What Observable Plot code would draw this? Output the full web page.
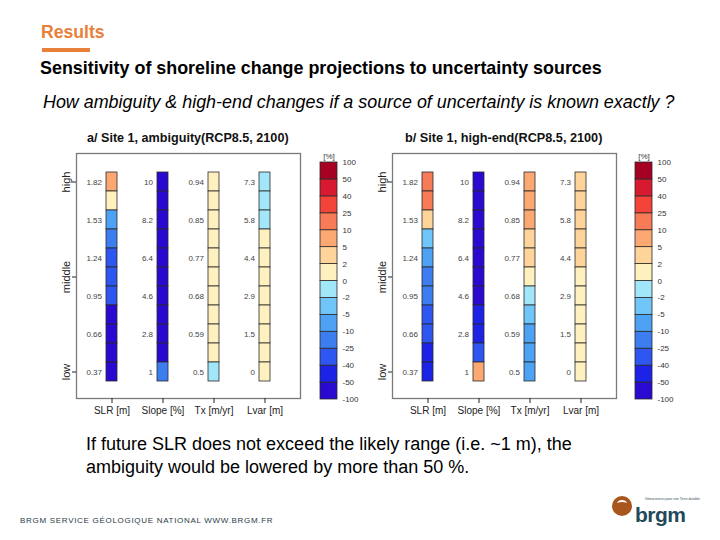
<!DOCTYPE html>
<html>
<head>
<meta charset="utf-8">
<script src="https://cdn.jsdelivr.net/npm/d3@7"></script>
<script src="https://cdn.jsdelivr.net/npm/@observablehq/plot@0.6"></script>
<style>
  html, body { margin: 0; padding: 0; background: #fff; }
  #page { position: relative; width: 720px; height: 540px; overflow: hidden; font-family: "Liberation Sans", Arial, sans-serif; }
  .abs { position: absolute; white-space: nowrap; }
  svg { overflow: visible; }
</style>
</head>
<body>
<div id="page">
  <div class="abs" style="left:41px;top:22px;font-size:17.6px;font-weight:bold;color:#E8803A;">Results</div>
  <div class="abs" style="left:42px;top:48px;width:48px;height:3.5px;background:#E8803A;"></div>
  <div class="abs" style="left:40px;top:58px;font-size:17.9px;font-weight:bold;color:#000;">Sensitivity of shoreline change projections to uncertainty sources</div>
  <div class="abs" style="left:43px;top:92px;font-size:17.9px;font-style:italic;color:#000;">How ambiguity &amp; high-end changes if a source of uncertainty is known exactly ?</div>
  <div class="abs" style="left:87px;top:131px;font-size:12.6px;font-weight:bold;color:#111;">a/ Site 1, ambiguity(RCP8.5, 2100)</div>
  <div class="abs" style="left:405px;top:131px;font-size:12.7px;font-weight:bold;color:#111;">b/ Site 1, high-end(RCP8.5, 2100)</div>
  <div class="abs" id="mainA" style="left:30px;top:125px;"></div>
  <div class="abs" id="barA" style="left:310px;top:140px;"></div>
  <div class="abs" id="mainB" style="left:346px;top:125px;"></div>
  <div class="abs" id="barB" style="left:625px;top:140px;"></div>
  <div class="abs" style="left:86px;top:433px;font-size:18px;line-height:23px;color:#000;">If future SLR does not exceed the likely range (i.e. ~1 m), the<br>ambiguity would be lowered by more than 50 %.</div>
  <div class="abs" style="left:20px;top:516px;font-size:8px;letter-spacing:0.7px;color:#2a3a45;">BRGM SERVICE GÉOLOGIQUE NATIONAL WWW.BRGM.FR</div>
  <div class="abs" style="left:612px;top:496px;width:20px;height:20px;border-radius:50%;background:#A8561E;"></div>
  <div class="abs" style="left:617px;top:500px;width:10px;height:5px;border-top:2px solid #fff;border-radius:50% 50% 0 0;"></div>
  <div class="abs" style="left:645px;top:497px;font-size:3.4px;line-height:4px;color:#2a4a58;">Géosciences pour une Terre durable</div>
  <div class="abs" style="left:635px;top:503px;font-size:21px;line-height:24px;font-weight:bold;color:#1F4A5A;letter-spacing:-0.5px;">brgm</div>
</div>
<script>
// ---- data ----
const variables = ["SLR [m]", "Slope [%]", "Tx [m/yr]", "Lvar [m]"];
const levelTicks = ["high", "middle", "low"];
const levelTickIdx = [0, 5, 10];

// value tick labels beside each column (top -> bottom)
const labelsSLR = ["1.82", "1.53", "1.24", "0.95", "0.66", "0.37"];
const labelsSlope = ["10", "8.2", "6.4", "4.6", "2.8", "1"];
const labelsTx = ["0.94", "0.85", "0.77", "0.68", "0.59", "0.5"];
const labelsLvar = ["7.3", "5.8", "4.4", "2.9", "1.5", "0"];

// estimated % change per cell (11 cells, top -> bottom)
// a/ ambiguity
const ambSLR   = [7, 1, -7, -17, -32, -32, -32, -75, -75, -75, -75];
const ambSlope = [-75, -75, -75, -75, -75, -75, -75, -75, -75, -75, -17];
const ambTx    = [1, 1, 1, 1, 1, 1, 1, 1, 1, 1, -1];
const ambLvar  = [-1, -1, -1, 1, 1, 1, 1, 1, 1, 1, 1];
// b/ high-end
const heSLR    = [17, 17, 3, -3, -7, -17, -17, -32, -32, -45, -45];
const heSlope  = [-75, -75, -75, -75, -75, -75, -75, -45, -45, -32, 7];
const heTx     = [7, 7, 7, 3, 3, 1, -1, -3, -7, -7, -7];
const heLvar   = [3, 3, 3, 3, 3, 1, 1, 1, 1, 1, 1];

// colour classes
const classBounds = ["-100", "-50", "-40", "-25", "-10", "-5", "-2", "0", "2", "5", "10", "25", "40", "50", "100"];
const thresholds = [-50, -40, -25, -10, -5, -2, 0, 2, 5, 10, 25, 40, 50];
const classMids = [-75, -45, -32, -17, -7, -3, -1, 1, 3, 7, 17, 32, 45, 75];
const classColors = ["#2A0AD0", "#1C22E6", "#2E56F0", "#3C7EF0", "#4EA2F4", "#70C6F8", "#A2E6FA",
                     "#FFF0C0", "#FED49A", "#FBA872", "#F87B58", "#F4443A", "#D81A30", "#A60022"];

// ---- build tables ----
const labelSets = [labelsSLR, labelsSlope, labelsTx, labelsLvar];
function cellsOf(cols) {
  const rows = [];
  cols.forEach((vals, j) => vals.forEach((p, i) => rows.push({v: variables[j], i, pct: p})));
  return rows;
}
const labelRows = [];
labelSets.forEach((labs, j) => labs.forEach((l, k) => labelRows.push({v: variables[j], i: 2 * k, label: l})));

const colorOpts = {type: "threshold", domain: thresholds, range: classColors};

function mainPlot(cols) {
  return Plot.plot({
    width: 280, height: 300,
    marginLeft: 46, marginRight: 10, marginTop: 28, marginBottom: 27,
    style: {fontFamily: "Liberation Sans, Arial, sans-serif", background: "transparent"},
    x: {type: "band", domain: variables, paddingInner: 0.787, paddingOuter: 0.56, align: 0.5, label: null},
    y: {type: "band", domain: d3.range(11), padding: 0, insetTop: 19, insetBottom: 17, label: null},
    color: colorOpts,
    marks: [
      Plot.frame({stroke: "#7a7a7a", strokeWidth: 1.3}),
      Plot.cell(cellsOf(cols), {x: "v", y: "i", fill: "pct", stroke: "#2a2a2a", strokeWidth: 0.8, inset: 0}),
      Plot.text(labelRows, {x: "v", y: "i", text: "label", textAnchor: "end", dx: -10, fontSize: 8, fill: "#444"}),
      Plot.axisX({tickSize: 5, tickPadding: 3, fontSize: 10, label: null, color: "#222"}),
      Plot.axisY({ticks: levelTickIdx, tickFormat: d => levelTicks[levelTickIdx.indexOf(d)], tickRotate: -90,
                  tickSize: 4, tickPadding: 3, fontSize: 11, label: null, color: "#222"})
    ]
  });
}

function barPlot() {
  const classes = classMids.map((m, i) => ({lo: i, hi: i + 1, mid: m}));
  return Plot.plot({
    width: 50, height: 270,
    marginLeft: 10, marginRight: 23, marginTop: 22, marginBottom: 11,
    style: {fontFamily: "Liberation Sans, Arial, sans-serif", background: "transparent"},
    y: {domain: [0, 14], label: null},
    color: colorOpts,
    marks: [
      Plot.rect(classes, {y1: "lo", y2: "hi", fill: "mid", stroke: "#2a2a2a", strokeWidth: 0.8}),
      Plot.axisY({anchor: "right", ticks: d3.range(15), tickFormat: i => classBounds[i], tickSize: 0,
                  tickPadding: 5, fontSize: 8, label: null, color: "#333"}),
      Plot.text(["[%]"], {frameAnchor: "top", dy: -9, fontSize: 8, fill: "#333"})
    ]
  });
}

document.getElementById("mainA").appendChild(mainPlot([ambSLR, ambSlope, ambTx, ambLvar]));
document.getElementById("mainB").appendChild(mainPlot([heSLR, heSlope, heTx, heLvar]));
document.getElementById("barA").appendChild(barPlot());
document.getElementById("barB").appendChild(barPlot());
</script>
</body>
</html>
